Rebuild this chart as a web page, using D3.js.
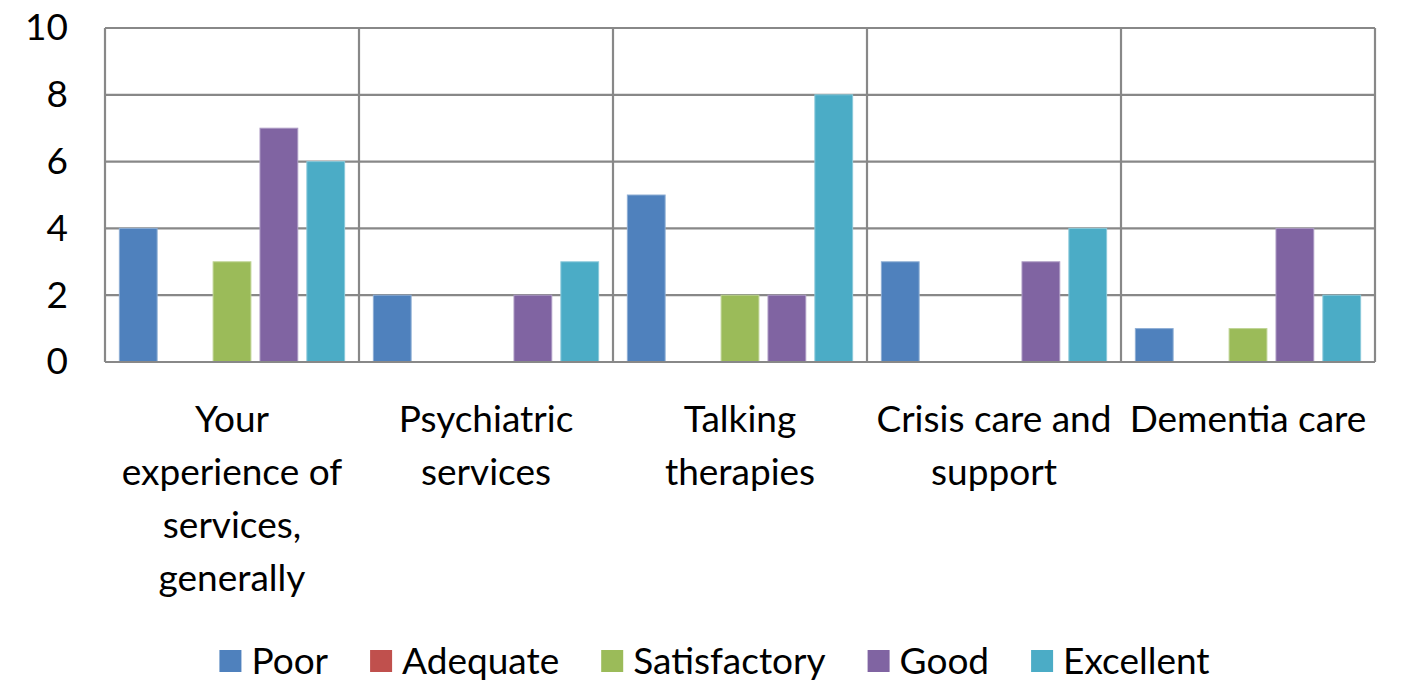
<!DOCTYPE html>
<html><head><meta charset="utf-8">
<script src="https://cdn.jsdelivr.net/npm/d3@7"></script>
<style>body{margin:0;background:#fff;} text{font-family:Lato, "Open Sans", sans-serif; fill:#000;}</style>
</head><body>
<svg id="chart" width="1401" height="681"></svg>
<script>
const categories = ["Your experience of services, generally","Psychiatric services","Talking therapies","Crisis care and support","Dementia care"];
const categoryLines = [["Your","experience of","services,","generally"],["Psychiatric","services"],["Talking","therapies"],["Crisis care and","support"],["Dementia care"]];
const seriesNames = ["Poor","Adequate","Satisfactory","Good","Excellent"];
const poor = [4,2,5,3,1];
const adequate = [0,0,0,0,0];
const satisfactory = [3,0,2,0,1];
const good = [7,2,2,3,4];
const excellent = [6,3,8,4,2];
const colors = ["#4F81BD","#C0504D","#9BBB59","#8064A2","#4BACC6"];
const yTicks = [0,2,4,6,8,10];

const values = [poor, adequate, satisfactory, good, excellent];
const svg = d3.select("#chart");
const pLeft = 105, pRight = 1375, pTop = 28, pBottom = 362;
const fontSize = 37;

const x0 = d3.scaleBand().domain(categories).range([pLeft, pRight]).padding(0);
const cw = x0.bandwidth();
const pad = cw * 0.0565;
const x1 = d3.scaleBand().domain(seriesNames).range([pad, cw - pad]).paddingInner(0.194).paddingOuter(0);
const y = d3.scaleLinear().domain([0, 10]).range([pBottom, pTop]);

const grid = "#888888";
svg.append("g").selectAll("line").data(yTicks).join("line")
  .attr("x1", pLeft).attr("x2", pRight).attr("y1", d => y(d)).attr("y2", d => y(d))
  .attr("stroke", grid).attr("stroke-width", 2.2);
const bounds = categories.map(c => x0(c)).concat([pRight]);
svg.append("g").selectAll("line").data(bounds).join("line")
  .attr("x1", d => d).attr("x2", d => d).attr("y1", pTop).attr("y2", pBottom)
  .attr("stroke", grid).attr("stroke-width", 2.2);

categories.forEach((c, ci) => {
  svg.append("g").attr("transform", `translate(${x0(c)},0)`)
    .selectAll("rect").data(seriesNames.map((s, si) => ({s, si, v: values[si][ci]})).filter(d => d.v > 0))
    .join("rect")
    .attr("x", d => x1(d.s)).attr("width", x1.bandwidth())
    .attr("y", d => y(d.v)).attr("height", d => y(0) - y(d.v))
    .attr("fill", d => colors[d.si])
    .attr("stroke", d => d3.interpolateRgb(colors[d.si], "#fff")(0.35)).attr("stroke-width", 1);
});
svg.append("line").attr("x1", pLeft).attr("x2", pRight).attr("y1", y(0)).attr("y2", y(0))
  .attr("stroke", grid).attr("stroke-width", 2.2);

const yAxis = d3.axisLeft(y).tickValues(yTicks).tickSize(0).tickPadding(37);
const ya = svg.append("g").attr("transform", `translate(${pLeft},0)`).call(yAxis);
ya.select(".domain").remove();
ya.selectAll("text").style("font-size", fontSize + "px").style("font-family", "Lato, 'Open Sans', sans-serif").attr("fill", "#000");

categories.forEach((c, ci) => {
  const cx = x0(c) + cw / 2;
  categoryLines[ci].forEach((ln, li) => {
    svg.append("text").attr("x", cx).attr("y", 432 + li * 53)
      .attr("text-anchor", "middle").style("font-size", fontSize + "px").text(ln);
  });
});

const lg = svg.append("g");
let lx = 0;
const gap = 42;
seriesNames.forEach((s, i) => {
  const g = lg.append("g").attr("transform", `translate(${lx},0)`);
  g.append("rect").attr("x", 0).attr("y", -11).attr("width", 22).attr("height", 22).attr("fill", colors[i]);
  const t = g.append("text").attr("x", 32).attr("y", 13).style("font-size", fontSize + "px").text(s);
  const w = t.node().getComputedTextLength();
  lx += 32 + w + gap;
});
const totalW = lx - gap;
lg.attr("transform", `translate(${714.5 - totalW / 2},661)`);
</script>
</body></html>
